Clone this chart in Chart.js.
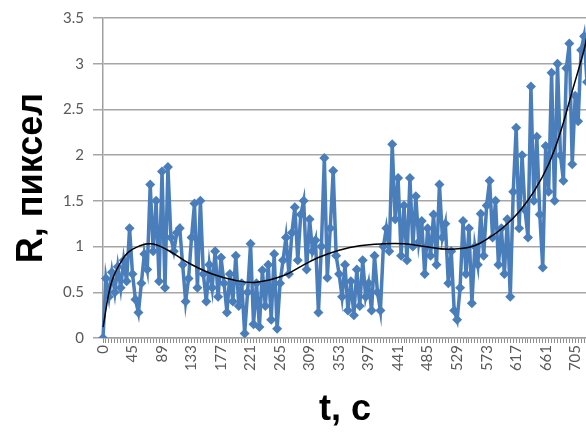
<!DOCTYPE html>
<html>
<head>
<meta charset="utf-8">
<script src="https://cdn.jsdelivr.net/npm/chart.js@4"></script>
<style>
  html, body { margin: 0; padding: 0; background: #fff; overflow: hidden; }
  #wrap { width: 586px; height: 438px; overflow: hidden; }
</style>
</head>
<body>
<div id="wrap"><canvas id="canvas" width="607" height="438"></canvas></div>
<script>
// время, с (категории)
const tLabels = [
  0, 5, 9, 14, 18, 23, 27, 32, 36, 41,
  45, 49, 54, 58, 63, 67, 71, 76, 80, 85,
  89, 93, 98, 102, 107, 111, 115, 120, 124, 129,
  133, 137, 142, 146, 151, 155, 159, 164, 168, 173,
  177, 181, 186, 190, 195, 199, 203, 208, 212, 217,
  221, 225, 230, 234, 239, 243, 247, 252, 256, 261,
  265, 269, 274, 278, 283, 287, 291, 296, 300, 305,
  309, 313, 318, 322, 327, 331, 335, 340, 344, 349,
  353, 357, 362, 366, 371, 375, 379, 384, 388, 393,
  397, 401, 406, 410, 415, 419, 423, 428, 432, 437,
  441, 445, 450, 454, 459, 463, 467, 472, 476, 481,
  485, 489, 494, 498, 503, 507, 511, 516, 520, 525,
  529, 533, 538, 542, 547, 551, 555, 560, 564, 569,
  573, 577, 582, 586, 591, 595, 599, 604, 608, 613,
  617, 621, 626, 630, 635, 639, 643, 648, 652, 657,
  661, 665, 670, 674, 679, 683, 687, 692, 696, 701,
  705, 709, 714, 718, 723
]

// подписи, которые видны на оси
const shownTicks = [0, 45, 89, 133, 177, 221, 265, 309, 353, 397, 441, 485, 529, 573, 617, 661, 705]

// R, пиксел
const rValues = [
  0.0, 0.65, 0.45, 0.72, 0.5, 0.78, 0.55, 0.85, 0.62, 1.2,
  0.7, 0.42, 0.28, 0.6, 0.92, 0.75, 1.68, 0.95, 1.5, 0.62,
  1.82, 0.55, 1.87, 1.1, 0.95, 1.15, 1.2, 0.8, 0.4, 0.65,
  1.1, 1.47, 0.55, 1.5, 0.7, 0.4, 0.8, 0.55, 0.95, 0.45,
  0.88, 0.6, 0.28, 0.7, 0.4, 0.9, 0.35, 0.6, 0.05, 0.5,
  1.03, 0.15, 0.6, 0.12, 0.74, 0.35, 0.8, 0.2, 0.92, 0.1,
  0.6, 0.85, 1.1, 0.7, 1.15, 1.43, 0.85, 1.35, 1.5, 0.75,
  1.3, 0.95, 1.07, 0.28, 1.0, 1.97, 0.66, 1.2, 1.83, 0.9,
  0.7, 0.45, 0.8, 0.3, 0.62, 0.25, 0.75, 0.35, 0.85, 0.45,
  0.6, 0.3, 0.9, 0.5, 0.3, 1.0, 1.2, 0.95, 2.12, 1.3,
  1.75, 0.9, 1.45, 0.85, 1.75, 1.0, 1.55, 1.05, 1.28, 0.7,
  1.2, 0.9, 1.35, 0.8, 1.68, 1.1, 1.25, 0.6, 0.95, 0.3,
  0.2, 0.55, 1.28, 0.7, 1.2, 0.38, 1.0, 0.8, 1.36, 0.9,
  1.45, 1.72, 1.1, 1.5, 0.8, 1.2, 0.7, 1.3, 0.45, 1.6,
  2.3, 1.2, 2.0, 1.4, 1.1, 2.75, 1.5, 2.2, 1.35, 0.77,
  2.1, 1.6, 2.9, 1.5, 3.0, 2.0, 1.72, 2.95, 3.22, 1.9,
  2.65, 2.37, 3.15, 3.3, 2.8
]

// линия тренда (чёрная), точки по шкале t
const trendT = [0, 14, 32, 45, 71, 98, 129, 164, 199, 230, 269, 300, 322, 353, 384, 419, 450, 481, 516, 551, 577, 599, 621, 643, 665, 683, 701, 718, 723]
const trendR = [0.12, 0.62, 0.88, 0.97, 1.03, 0.96, 0.82, 0.7, 0.63, 0.61, 0.68, 0.8, 0.88, 0.96, 1.01, 1.03, 1.03, 1.0, 0.97, 1.0, 1.1, 1.22, 1.38, 1.6, 1.9, 2.25, 2.7, 3.15, 3.3]

const blue = '#4a7ebb'
const tickFont = { family: 'Lato', size: 15 }
const titleFont = { family: 'Liberation Sans', size: 36, weight: 'bold' }

const data = {
    labels: tLabels.map(String),
    datasets: [
        {
            label: 'тренд',
            data: trendT.map((t, i) => ({ x: String(t), y: trendR[i] })),
            borderColor: '#000',
            borderWidth: 1.5,
            pointRadius: 0,
            tension: 0.4,
            order: 0,
        },
        {
            label: 'R',
            data: rValues,
            borderColor: blue,
            backgroundColor: blue,
            borderWidth: 3.5,
            pointStyle: 'rectRot',
            pointRadius: 5,
            pointBorderWidth: 0,
            order: 1,
        }
    ]
}

const config = {
    type: 'line',
    data: data,
    options: {
        responsive: false,
        animation: false,
        layout: { padding: { top: 16, right: 0, left: 0, bottom: 0 } },
        plugins: { legend: { display: false }, tooltip: { enabled: false } },
        scales: {
            x: {
                offset: false,
                grid: { drawOnChartArea: false, color: '#8c8c8c', tickLength: 5, lineWidth: 1 },
                border: { color: '#a0a0a0', width: 1.5 },
                ticks: {
                    autoSkip: false,
                    minRotation: 90,
                    maxRotation: 90,
                    color: '#595959',
                    font: tickFont,
                    padding: 2,
                    callback: function (v) {
                        const t = tLabels[v]
                        return shownTicks.includes(t) ? String(t) : ''
                    }
                },
                title: {
                    display: true,
                    text: 't, c',
                    color: '#000',
                    font: titleFont,
                    padding: { top: 10, bottom: 6 }
                },
                afterFit: function (s) { s.height = 100 }
            },
            y: {
                min: 0,
                max: 3.5,
                ticks: {
                    stepSize: 0.5,
                    color: '#595959',
                    font: tickFont,
                    padding: 9,
                    callback: function (v) { return String(v) }
                },
                grid: { color: '#a6a6a6', lineWidth: 1.5, tickLength: 10 },
                border: { color: '#a0a0a0', width: 1.5 },
                title: {
                    display: true,
                    text: 'R, пиксел',
                    color: '#000',
                    font: titleFont,
                    padding: { top: 10, bottom: 4 }
                },
                afterFit: function (s) { s.width = 103 }
            }
        }
    }
}
const canvas = document.getElementById('canvas')
const chart = new Chart(canvas, config)
</script>
</body>
</html>
